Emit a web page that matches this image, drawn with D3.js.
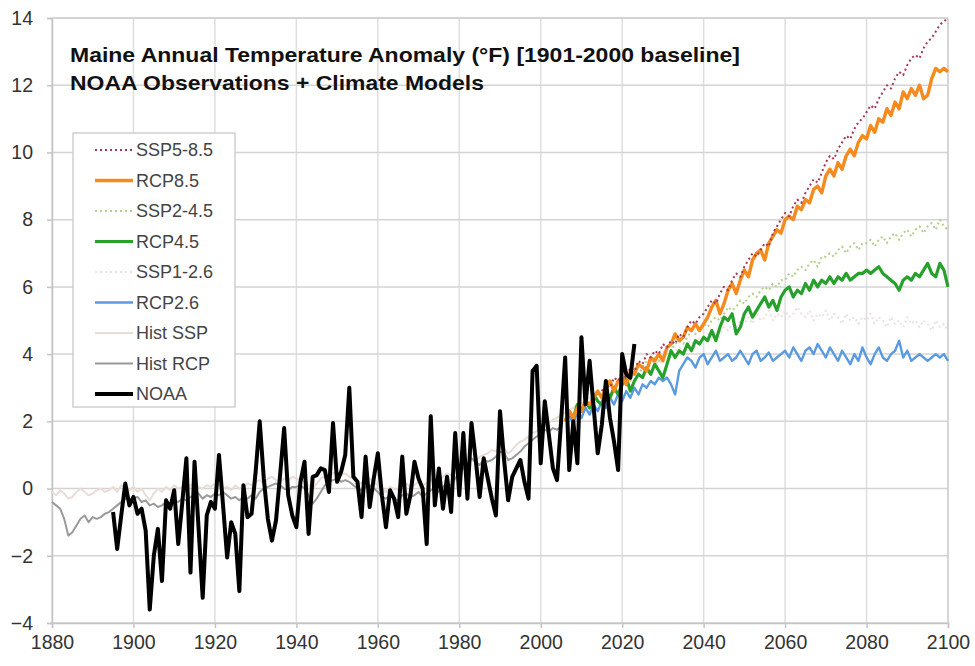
<!DOCTYPE html>
<html>
<head>
<meta charset="utf-8">
<script src="https://cdn.jsdelivr.net/npm/d3@7"></script>
<style>
  body { margin: 0; background: #fff; }
  text { font-family: "Liberation Sans", Arial, sans-serif; }
</style>
</head>
<body>
<svg id="chart" width="975" height="666"></svg>
<script>
// Maine annual temperature anomaly (deg F, 1901-2000 baseline): NOAA obs + model means

///// DATA /////
const xTicks = [1880, 1900, 1920, 1940, 1960, 1980, 2000, 2020, 2040, 2060, 2080, 2100];
const yTicks = [-4, -2, 0, 2, 4, 6, 8, 10, 12, 14];

const legendLabels = ["SSP5-8.5", "RCP8.5", "SSP2-4.5", "RCP4.5", "SSP1-2.6", "RCP2.6", "Hist SSP", "Hist RCP", "NOAA"];

// NOAA observations, 1895-2023
const noaaStart = 1895;
const noaa = [
  -0.7, -1.8, -0.8, 0.15, -0.5,
  -0.25, -0.75, -0.6, -1.25, -3.6, -2.0, -1.2, -2.75, -0.35, -0.6,
  -0.05, -1.65, -0.4, 0.9, -2.5, 0.8, -1.2, -3.25, -0.8, -0.4,
  -0.6, 1.0, -0.5, -2.05, -1.0, -1.35, -3.05, 0.1, -0.85, -0.75,
  0.5, 2.0, 0.3, -0.9, -1.55, -0.95, 0.4, 1.8, -0.2, -0.8,
  -1.15, 0.2, 0.8, -1.35, 0.35, 0.4, 0.6, 0.55, -0.1, 1.95,
  0.2, 0.5, 1.0, 3.0, 0.35, 0.2, -0.85, 0.95, -0.55, 0.3,
  1.05, -0.2, -1.15, -0.05, -0.3, -0.85, 0.95, -0.75, -0.2, 0.8,
  0.3, 0.0, -1.65, 2.15, -0.5, 0.6, -0.6, 0.35, -0.7, 1.65,
  -0.2, 1.65, -0.3, 1.95, 0.9, -0.25, 0.9, 0.3, -0.3, -0.8,
  2.3, 0.85, -0.35, 0.35, 0.6, 0.85, 0.2, -0.3, 3.5, 3.65,
  0.75, 2.6, 1.6, 0.6, 0.25, 2.0, 3.9, 0.55, 2.0, 0.75,
  4.5, 2.5, 3.8, 2.4, 1.05, 1.9, 3.2, 2.1, 1.4, 0.55,
  4.0, 3.4, 3.3, 4.3
];

// historical model runs
const histRcpStart = 1880;
const histRcp = [
  -0.4, -0.5, -0.6, -0.9, -1.4, -1.3, -1.1, -0.9, -0.8, -1.0,
  -0.85, -0.9, -0.85, -0.75, -0.7, -0.6, -0.5, -0.4, -0.3, -0.35,
  -0.3, -0.25, -0.4, -0.35, -0.5, -0.45, -0.55, -0.5, -0.4, -0.45,
  -0.35, -0.4, -0.3, -0.35, -0.25, -0.2, -0.15, -0.3, -0.2, -0.25,
  -0.15, -0.2, -0.1, -0.2, -0.3, -0.25, -0.35, -0.25, -0.3, -0.2,
  -0.3, -0.1, 0.0, 0.05, 0.1, 0.15, 0.1, 0.0, -0.05, 0.05,
  0.05, 0.1, 0.0, -0.2, -0.45, -0.3, -0.1, 0.1, 0.2, 0.25,
  0.3, 0.2, 0.25, 0.2, 0.1, 0.0, -0.05, 0.05, 0.1, 0.0,
  -0.1, -0.25, -0.3, -0.2, -0.3, -0.35, -0.2, -0.15, -0.25, -0.2,
  -0.1, -0.25, -0.15, -0.05, 0.0, -0.1, 0.05, 0.15, 0.1, 0.3,
  0.45, 0.6, 0.75, 0.9, 0.8, 0.7, 0.85, 0.8, 0.85, 0.95,
  1.1, 1.05, 0.85, 0.9, 1.0, 1.1, 1.25, 1.35, 1.45, 1.55,
  1.6, 1.75, 1.7, 1.8, 1.75, 1.85
];
const histSspStart = 1880;
const histSsp = [
  -0.1, -0.2, -0.05, -0.15, -0.3, -0.25, -0.1, 0.0, -0.1, -0.2,
  -0.15, -0.05, 0.0, -0.1, -0.05, 0.05, -0.1, 0.1, 0.0, -0.05,
  0.05, -0.1, 0.0, -0.2, -0.35, -0.15, 0.0, -0.1, 0.05, -0.05,
  0.1, 0.0, 0.05, -0.05, 0.1, 0.15, 0.05, 0.0, 0.1, 0.05,
  0.15, 0.1, 0.0, 0.05, -0.05, 0.1, 0.0, 0.05, 0.15, 0.1,
  0.2, 0.25, 0.15, 0.3, 0.35, 0.25, 0.2, 0.3, 0.25, 0.35,
  0.3, 0.25, 0.2, 0.1, 0.0, 0.15, 0.3, 0.35, 0.4, 0.45,
  0.5, 0.4, 0.45, 0.35, 0.3, 0.2, 0.15, 0.25, 0.3, 0.2,
  0.1, 0.0, -0.1, 0.05, 0.0, -0.05, 0.1, 0.15, 0.05, 0.1,
  0.2, 0.1, 0.15, 0.25, 0.3, 0.2, 0.35, 0.45, 0.4, 0.55,
  0.65, 0.75, 0.7, 0.85, 0.8, 0.95, 1.0, 1.05, 1.15, 1.1,
  1.25, 1.2, 1.05, 1.15, 1.3, 1.4, 1.45, 1.55, 1.65, 1.7,
  1.8, 1.85, 1.95, 2.05, 2.1, 2.2, 2.25, 2.35, 2.4, 2.5,
  2.55, 2.6, 2.7, 2.75, 2.8
];

// CMIP5 RCP projections, 2006-2100
const rcpStart = 2006;
const rcp85 = [
  2.0, 2.3, 2.1, 2.4,
  2.3, 2.6, 2.5, 2.7, 2.9, 2.7, 3.0, 3.2, 2.9, 3.2,
  3.3, 3.1, 3.5, 3.4, 3.7, 3.6, 3.5, 3.9, 3.8, 4.0,
  3.8, 4.2, 4.3, 4.6, 4.4, 4.5, 4.8, 4.7, 4.9, 4.7,
  4.9, 5.1, 5.4, 5.6, 5.2, 5.5, 5.9, 6.1, 5.8, 6.2,
  6.5, 6.3, 6.8, 7.0, 7.1, 6.8, 7.3, 7.5, 7.7, 7.6,
  8.0, 8.1, 8.0, 8.4, 8.3, 8.6, 8.5, 8.9, 9.0, 8.8,
  9.3, 9.5, 9.3, 9.7, 9.5, 9.9, 10.1, 9.9, 10.3, 10.5,
  10.4, 10.8, 10.6, 11.0, 10.9, 11.3, 11.1, 11.5, 11.3, 11.8,
  11.6, 11.9, 11.7, 12.0, 11.6, 11.7, 12.2, 12.5, 12.4, 12.5,
  12.4
];
const rcp45 = [
  2.0, 2.3, 2.1, 2.5,
  2.3, 2.6, 2.4, 2.8, 2.6, 2.5, 2.9, 2.7, 3.0, 2.8,
  3.1, 3.3, 2.9, 3.2, 3.4, 3.3, 3.6, 3.4, 3.7, 3.5,
  3.3, 3.7, 4.1, 3.9, 4.1, 4.0, 4.3, 4.1, 4.4, 4.3,
  4.5, 4.4, 4.7, 4.4, 4.8, 5.1, 5.0, 5.2, 4.6, 4.8,
  5.2, 5.4, 5.1, 5.3, 5.5, 5.7, 5.4, 5.6, 5.3, 5.7,
  5.9, 6.0, 5.7, 5.9, 5.8, 6.1, 5.9, 6.2, 6.0, 6.2,
  6.1, 6.3, 6.1, 6.3, 6.2, 6.4, 6.2, 6.3, 6.4, 6.4,
  6.5, 6.4, 6.5, 6.6, 6.4, 6.3, 6.2, 6.1, 5.9, 6.2,
  6.3, 6.2, 6.4, 6.3, 6.5, 6.7, 6.4, 6.3, 6.7, 6.5,
  6.0
];
const rcp26 = [
  2.0, 2.2, 1.9, 2.3,
  2.1, 2.4, 2.2, 2.5, 2.3, 2.6, 2.4, 2.7, 2.5, 2.8,
  2.6, 2.9, 2.7, 3.0, 2.8, 3.1, 3.0, 3.2, 3.1, 3.3,
  3.2, 3.3, 3.1, 2.8, 3.5, 3.7, 3.9, 3.8, 3.6, 3.9,
  4.0, 3.7, 3.9, 4.1, 3.8, 3.9, 4.0, 3.8, 3.9, 4.1,
  3.9, 3.7, 4.0, 4.1, 3.8, 3.9, 4.05, 3.8, 3.9, 4.0,
  4.1, 3.9, 4.2, 4.0, 3.8, 4.1, 4.2, 4.0, 4.3, 4.1,
  3.9, 4.2, 4.0, 3.8, 4.1, 3.9, 3.7, 4.0, 3.8, 4.2,
  3.9, 3.7, 4.0, 4.2, 3.9, 3.8, 4.0, 4.1, 4.4, 3.9,
  4.1, 3.8, 3.9, 4.0, 3.9, 3.8, 3.9, 4.0, 3.9, 4.0,
  3.8
];

// CMIP6 SSP projections, 2015-2100
const sspStart = 2015;
const ssp585 = [
  2.9, 3.1, 3.0, 3.3, 3.2,
  3.4, 3.3, 3.6, 3.5, 3.8, 3.7, 4.0, 3.9, 4.1, 4.0,
  4.3, 4.2, 4.4, 4.3, 4.6, 4.5, 4.8, 5.0, 4.9, 5.1,
  5.2, 5.4, 5.6, 5.5, 5.8, 6.0, 5.9, 6.2, 6.4, 6.3,
  6.6, 6.8, 7.0, 6.9, 7.1, 7.3, 7.2, 7.6, 7.8, 8.0,
  8.2, 8.1, 8.4, 8.6, 8.5, 8.8, 9.0, 9.2, 9.1, 9.4,
  9.7, 9.9, 9.8, 10.1, 10.3, 10.5, 10.4, 10.7, 10.9, 11.0,
  11.2, 11.4, 11.3, 11.6, 11.8, 12.0, 11.9, 12.2, 12.4, 12.3,
  12.6, 12.8, 12.9, 12.8, 13.1, 13.3, 13.4, 13.6, 13.8, 13.9,
  14.0
];
const ssp245 = [
  2.6, 2.8, 2.7, 3.0, 3.2,
  3.1, 3.3, 3.2, 3.5, 3.4, 3.6, 3.8, 3.7, 3.9, 3.8,
  4.0, 4.2, 4.1, 4.3, 4.4, 4.3, 4.5, 4.7, 4.6, 4.8,
  4.9, 4.8, 5.0, 5.1, 5.0, 5.2, 5.4, 5.3, 5.4, 5.6,
  5.5, 5.7, 5.8, 5.7, 5.9, 6.0, 5.9, 6.1, 6.0, 6.2,
  6.2, 6.4, 6.3, 6.5, 6.6, 6.5, 6.7, 6.8, 6.6, 6.9,
  6.9, 7.0, 6.9, 7.1, 7.2, 7.0, 7.2, 7.3, 7.1, 7.3,
  7.3, 7.4, 7.2, 7.4, 7.5, 7.3, 7.5, 7.6, 7.4, 7.6,
  7.7, 7.5, 7.7, 7.8, 7.6, 7.8, 7.9, 7.7, 8.0, 7.8,
  7.7
];
const ssp126 = [
  2.6, 2.8, 2.7, 3.0, 2.9,
  3.2, 3.1, 3.3, 3.4, 3.3, 3.6, 3.5, 3.7, 3.8, 3.7,
  3.9, 4.0, 3.9, 4.1, 4.2, 4.1, 4.3, 4.4, 4.2, 4.5,
  4.4, 4.6, 4.5, 4.7, 4.6, 4.8, 4.7, 4.9, 4.8, 5.0,
  4.9, 5.1, 4.9, 5.2, 5.0, 5.1, 5.3, 5.0, 5.2, 5.1,
  5.3, 5.1, 5.2, 5.4, 5.2, 5.1, 5.3, 5.0, 5.2, 5.1,
  5.3, 5.0, 5.2, 5.1, 4.9, 5.2, 5.0, 5.1, 4.9, 5.1,
  5.0, 5.2, 4.9, 5.1, 5.0, 4.8, 5.1, 4.9, 5.0, 4.8,
  5.1, 4.9, 5.0, 4.8, 5.0, 4.9, 4.7, 5.0, 4.8, 4.9,
  4.7
];

///// SERIES TABLE (draw order, bottom to top) /////
const series = [
  {name: "Hist SSP", start: histSspStart, values: histSsp, color: "#eadcd6", width: 2, dash: null},
  {name: "Hist RCP", start: histRcpStart, values: histRcp, color: "#9a9a9a", width: 2, dash: null},
  {name: "SSP1-2.6", start: sspStart, values: ssp126, color: "#ebe0e3", width: 2, dash: "2,3"},
  {name: "RCP2.6", start: rcpStart, values: rcp26, color: "#5a9ae0", width: 2.4, dash: null},
  {name: "SSP2-4.5", start: sspStart, values: ssp245, color: "#b4cf8c", width: 2, dash: "2,3"},
  {name: "RCP4.5", start: rcpStart, values: rcp45, color: "#27a02c", width: 3.2, dash: null},
  {name: "RCP8.5", start: rcpStart, values: rcp85, color: "#f58a1f", width: 3.4, dash: null},
  {name: "SSP5-8.5", start: sspStart, values: ssp585, color: "#a33a55", width: 2, dash: "2,3"},
  {name: "NOAA", start: noaaStart, values: noaa, color: "#000000", width: 4, dash: null}
];

///// LAYOUT /////
const svg = d3.select("#chart");
const margin = {top: 18, right: 27, bottom: 43, left: 52};
const width = 975, height = 666;

const x = d3.scaleLinear().domain([1880, 2100]).range([margin.left, width - margin.right]);
const y = d3.scaleLinear().domain([-4, 14]).range([height - margin.bottom, margin.top]);

// gridlines
svg.append("g")
  .selectAll("line")
  .data(xTicks)
  .enter().append("line")
    .attr("x1", d => x(d)).attr("x2", d => x(d))
    .attr("y1", y(14)).attr("y2", y(-4))
    .attr("stroke", "#dedede").attr("stroke-width", 1.5);
svg.append("g")
  .selectAll("line")
  .data(yTicks)
  .enter().append("line")
    .attr("x1", x(1880)).attr("x2", x(2100))
    .attr("y1", d => y(d)).attr("y2", d => y(d))
    .attr("stroke", "#d4d4d4").attr("stroke-width", 1.5);

// axes
const xAxis = svg.append("g")
  .attr("transform", "translate(0," + y(-4) + ")")
  .call(d3.axisBottom(x).tickValues(xTicks).tickFormat(d3.format("d")).tickSize(5).tickPadding(7));
const yAxis = svg.append("g")
  .attr("transform", "translate(" + x(1880) + ",0)")
  .call(d3.axisLeft(y).tickValues(yTicks).tickSize(5).tickPadding(14));
[xAxis, yAxis].forEach(function(g) {
  g.select(".domain").attr("stroke", "#c4c4c4").attr("stroke-width", 1.5);
  g.selectAll(".tick line").attr("stroke", "#c4c4c4").attr("stroke-width", 1.5);
  g.selectAll(".tick text")
    .attr("fill", "#333")
    .style("font-size", "19.5px")
    .style("font-family", "'Liberation Sans', Arial, sans-serif");
});
// right and top frame
svg.append("line")
  .attr("x1", x(2100)).attr("x2", x(2100)).attr("y1", y(14)).attr("y2", y(-4))
  .attr("stroke", "#d0d0d0").attr("stroke-width", 1.5);
svg.append("line")
  .attr("x1", x(1880)).attr("x2", x(2100)).attr("y1", y(14)).attr("y2", y(14))
  .attr("stroke", "#d0d0d0").attr("stroke-width", 1.5);

///// LINES /////
const line = d3.line()
  .x(d => x(d.year))
  .y(d => y(d.value));

series.forEach(function(s) {
  const pts = s.values.map((v, i) => ({year: s.start + i, value: v}));
  svg.append("path")
    .datum(pts)
    .attr("d", line)
    .attr("fill", "none")
    .attr("stroke", s.color)
    .attr("stroke-width", s.width)
    .attr("stroke-linejoin", "round")
    .attr("stroke-dasharray", s.dash);
});

///// TITLE /////
svg.append("text")
  .attr("x", 70).attr("y", 62)
  .attr("textLength", 670).attr("lengthAdjust", "spacingAndGlyphs")
  .style("font-size", "21px").style("font-weight", "bold").attr("fill", "#111")
  .text("Maine Annual Temperature Anomaly (°F) [1901-2000 baseline]");
svg.append("text")
  .attr("x", 70).attr("y", 90)
  .attr("textLength", 414).attr("lengthAdjust", "spacingAndGlyphs")
  .style("font-size", "21px").style("font-weight", "bold").attr("fill", "#111")
  .text("NOAA Observations + Climate Models");

///// LEGEND /////
const legend = svg.append("g");
legend.append("rect")
  .attr("x", 73).attr("y", 133).attr("width", 162).attr("height", 274)
  .attr("fill", "#fff").attr("stroke", "#cfcfcf").attr("stroke-width", 1.5);

const legendY = d3.scalePoint().domain(legendLabels).range([150, 394]);
const byName = {};
series.forEach(s => byName[s.name] = s);

legendLabels.forEach(function(name) {
  const s = byName[name];
  legend.append("line")
    .attr("x1", 95).attr("x2", 133)
    .attr("y1", legendY(name)).attr("y2", legendY(name))
    .attr("stroke", s.color)
    .attr("stroke-width", s.width)
    .attr("stroke-dasharray", s.dash);
  legend.append("text")
    .attr("x", 136).attr("y", legendY(name) + 6)
    .style("font-size", "18px").attr("fill", "#444")
    .text(name);
});
</script>
</body>
</html>
